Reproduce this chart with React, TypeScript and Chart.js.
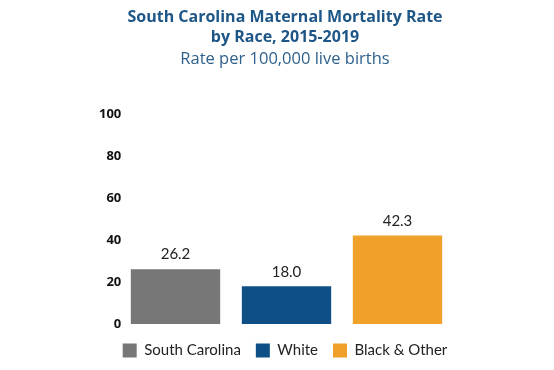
import React, { useEffect, useRef } from "react";
import { Chart, registerables } from "chart.js";

Chart.register(...registerables);

const categories = ["South Carolina", "White", "Black & Other"];
const rates = [26.2, 18.0, 42.3];
const colors = ["#777777", "#0e5086", "#f0a12a"];
const yTicks = [0, 20, 40, 60, 80, 100];
const titleLines = ["South Carolina Maternal Mortality Rate", "by Race, 2015-2019"];
const subtitleText = "Rate per 100,000 live births";

const valueLabels = {
  id: "valueLabels",
  afterDatasetsDraw(chart: any) {
    const ctx = chart.ctx;
    ctx.save();
    ctx.font = "15px Lato, 'Open Sans', sans-serif";
    ctx.fillStyle = "#222222";
    ctx.textAlign = "center";
    ctx.textBaseline = "bottom";
    chart.data.datasets.forEach((ds: any, di: number) => {
      const meta = chart.getDatasetMeta(di);
      meta.data.forEach((bar: any, i: number) => {
        const v = ds.data[i];
        if (v == null) return;
        ctx.fillText(Number(v).toFixed(1), bar.x, bar.y - 7);
      });
    });
    ctx.restore();
  },
};

export default function App() {
  const ref = useRef<HTMLCanvasElement | null>(null);
  useEffect(() => {
    if (!ref.current) return;
    const datasets = categories.map((c, i) => {
      const data = categories.map((_, j) => (j === i ? rates[i] : null));
      return {
        label: c,
        data,
        backgroundColor: colors[i],
        borderWidth: 0,
        barPercentage: 0.805,
        categoryPercentage: 1,
        grouped: false,
      };
    });
    const chart = new Chart(ref.current, {
      type: "bar",
      data: { labels: categories, datasets: datasets as any },
      plugins: [valueLabels],
      options: {
        animation: false,
        responsive: false,
        maintainAspectRatio: false,
        layout: { padding: { left: 16, right: 0, top: 0, bottom: 2 } },
        scales: {
          x: {
            display: true,
            afterFit: (s: any) => {
              s.height = 4;
            },
            grid: { display: false, drawTicks: false },
            border: { display: false },
            ticks: { display: false },
          },
          y: {
            min: 0,
            max: 100,
            afterFit: (s: any) => {
              s.width = 104;
            },
            afterBuildTicks: (s: any) => {
              s.ticks = yTicks.map((v) => ({ value: v }));
            },
            grid: { display: false, drawTicks: false },
            border: { display: false },
            ticks: {
              mirror: true,
              crossAlign: "far",
              padding: -21,
              color: "#111111",
              font: { family: "'Open Sans', sans-serif", size: 13, weight: "bold" },
            },
          },
          y2: {
            type: "linear",
            axis: "y",
            position: "right",
            display: true,
            afterFit: (s: any) => {
              s.width = 101;
            },
            grid: { display: false, drawTicks: false },
            border: { display: false },
            ticks: { display: false },
          },
        },
        plugins: {
          title: {
            display: true,
            text: titleLines,
            color: "#1d5687",
            font: { family: "'Open Sans', sans-serif", size: 16, weight: "bold", lineHeight: 1.25 },
            padding: { top: 7, bottom: 1 },
          },
          subtitle: {
            display: true,
            text: subtitleText,
            color: "#2f618c",
            font: { family: "'Open Sans', sans-serif", size: 16.5, weight: "normal", lineHeight: 1.25 },
            padding: { top: 1, bottom: 45 },
          },
          legend: {
            display: true,
            position: "bottom",
            labels: {
              boxWidth: 14,
              boxHeight: 14,
              padding: 15,
              color: "#222222",
              font: { family: "Lato, sans-serif", size: 15 },
            },
          },
          tooltip: { enabled: false },
        },
      },
    });
    return () => chart.destroy();
  }, []);
  return (
    <div style={{ position: "fixed", left: 0, top: 0, width: 554, height: 370, background: "#ffffff" }}>
      <canvas ref={ref} width={554} height={370} style={{ width: 554, height: 370 }} />
    </div>
  );
}
